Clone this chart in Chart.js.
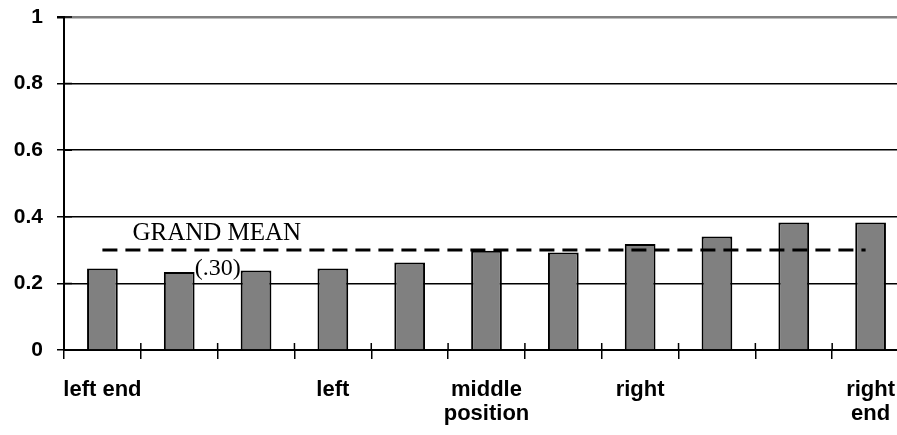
<!DOCTYPE html>
<html>
<head>
<meta charset="utf-8">
<script src="https://cdn.jsdelivr.net/npm/chart.js@4.4.0/dist/chart.umd.min.js"></script>
<style>
  html, body { margin: 0; padding: 0; overflow: hidden; background: #fff; }
  #wrap { width: 909px; height: 435px; }
</style>
</head>
<body>
<div id="wrap"><canvas id="chart" width="909" height="435"></canvas></div>
<script>
// positions on the left-right scale, only some are labelled
const positionLabels = [
  ['left end'], [''], [''], ['left'], [''],
  ['middle', 'position'], [''], ['right'], [''], [''], ['right', 'end']
];
const meanValues = [0.245, 0.234, 0.239, 0.245, 0.263, 0.298, 0.293, 0.318, 0.341, 0.383, 0.383];
const grandMean = 0.30;
const yTicks = [0, 0.2, 0.4, 0.6, 0.8, 1];

// grand mean line, its labels and the little cross ticks
const extras = {
  id: 'extras',
  afterDatasetsDraw(chart) {
    const ctx = chart.ctx;
    const x = chart.scales.x;
    const y = chart.scales.y;
    const area = chart.chartArea;
    const yMean = y.getPixelForValue(grandMean);
    const x0 = x.getPixelForValue(0);
    const x1 = x.getPixelForValue(meanValues.length - 1) - 5;

    ctx.save();
    ctx.strokeStyle = '#000';
    ctx.lineWidth = 3;
    ctx.setLineDash([15, 8]);
    ctx.beginPath();
    ctx.moveTo(x0, yMean);
    ctx.lineTo(x1, yMean);
    ctx.stroke();
    ctx.setLineDash([]);

    ctx.fillStyle = '#000';
    ctx.font = '25px "Liberation Serif", "Times New Roman", serif';
    ctx.textAlign = 'left';
    ctx.textBaseline = 'alphabetic';
    ctx.fillText('GRAND MEAN', x0 + 30, yMean - 10);

    ctx.font = '24px "Liberation Serif", "Times New Roman", serif';
    ctx.textAlign = 'center';
    ctx.textBaseline = 'middle';
    const xb = (x.getPixelForValue(1) + x.getPixelForValue(2)) / 2;
    ctx.fillText('(' + grandMean.toFixed(2).slice(1) + ')', xb, yMean + 19);

    // upper half of the x ticks
    ctx.lineWidth = 1.5;
    const n = meanValues.length;
    const step = (area.right - area.left) / n;
    ctx.beginPath();
    for (let i = 0; i <= n; i++) {
      const px = area.left + i * step;
      ctx.moveTo(px, area.bottom - 7);
      ctx.lineTo(px, area.bottom);
    }
    // right half of the y ticks
    yTicks.forEach(v => {
      const py = y.getPixelForValue(v);
      ctx.moveTo(area.left, py);
      ctx.lineTo(area.left + 8, py);
    });
    ctx.stroke();
    ctx.restore();
  }
};

new Chart(document.getElementById('chart'), {
  type: 'bar',
  data: {
    labels: positionLabels,
    datasets: [{
      data: meanValues,
      backgroundColor: '#808080',
      borderColor: '#000',
      borderWidth: 2,
      barPercentage: 0.4,
      categoryPercentage: 1
    }]
  },
  options: {
    responsive: false,
    animation: false,
    devicePixelRatio: 1,
    layout: { padding: { top: 17, left: 0, right: 0, bottom: 0 } },
    plugins: { legend: { display: false }, tooltip: { enabled: false } },
    scales: {
      x: {
        afterFit: s => { s.height = 85; s.paddingLeft = 0; s.paddingRight = 0; },
        grid: {
          drawOnChartArea: false,
          drawTicks: true,
          tickLength: 9,
          color: '#000',
          lineWidth: 1.5
        },
        border: { display: true, color: '#000', width: 2 },
        ticks: {
          color: '#000',
          padding: 19,
          maxRotation: 0,
          autoSkip: false,
          font: { family: '"Liberation Sans", Arial, sans-serif', size: 22, weight: 'bold', lineHeight: 1.1 }
        }
      },
      y: {
        min: 0,
        max: 1,
        afterFit: s => { s.width = 64; s.paddingTop = 0; s.paddingBottom = 0; },
        afterBuildTicks: s => { s.ticks = yTicks.map(v => ({ value: v })); },
        grid: {
          color: c => (c.tick && c.tick.value === 1 ? '#808080' : '#000'),
          lineWidth: c => (c.tick && c.tick.value === 1 ? 2.5 : 1.5),
          tickColor: '#000',
          tickLength: 7
        },
        border: { display: true, color: '#000', width: 2 },
        ticks: {
          color: '#000',
          padding: 14,
          callback: v => String(v),
          font: { family: '"Liberation Sans", Arial, sans-serif', size: 21, weight: 'bold' }
        }
      }
    }
  },
  plugins: [extras]
});
</script>
</body>
</html>
